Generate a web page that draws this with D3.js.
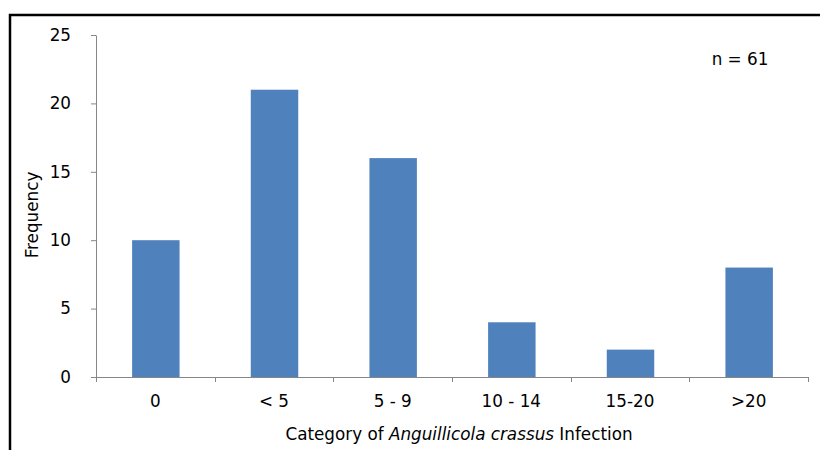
<!DOCTYPE html>
<html>
<head>
<meta charset="utf-8">
<script src="https://cdn.jsdelivr.net/npm/d3@7"></script>
<style>
  html, body { margin: 0; padding: 0; background: #fff; }
  svg { display: block; }
  text { font-family: "DejaVu Sans", Verdana, sans-serif; fill: #000; }
</style>
</head>
<body>
<svg id="chart" width="820" height="450"></svg>
<script>
// Infection categories and eel counts per category
const categories = ["0", "< 5", "5 - 9", "10 - 14", "15-20", ">20"];
const frequencies = [10, 21, 16, 4, 2, 8];
const yTicks = [0, 5, 10, 15, 20, 25];
const sampleLabel = "n = 61";

const svg = d3.select("#chart");
const plotLeft = 96, plotRight = 808, plotTop = 35, plotBottom = 377;
const fontSize = 16.8;

// outer frame (runs off the right and bottom edges)
svg.append("rect")
  .attr("x", 10).attr("y", 15)
  .attr("width", 900).attr("height", 900)
  .attr("fill", "none").attr("stroke", "#000").attr("stroke-width", 2.5);

const x = d3.scaleBand().domain(categories).range([plotLeft, plotRight]).padding(0);
const y = d3.scaleLinear().domain([0, 25]).range([plotBottom, plotTop]);

const axisColor = "#868686";

// bars
const barFrac = 0.4;
svg.append("g").selectAll("rect")
  .data(frequencies)
  .join("rect")
  .attr("x", (d, i) => x(categories[i]) + x.bandwidth() * (1 - barFrac) / 2 + 0.5)
  .attr("width", x.bandwidth() * barFrac)
  .attr("y", d => y(d))
  .attr("height", d => y(0) - y(d))
  .attr("fill", "#4F81BD");

// y axis
const yAxis = svg.append("g")
  .attr("transform", `translate(${plotLeft},0)`)
  .call(d3.axisLeft(y).tickValues(yTicks).tickSize(5).tickSizeOuter(0).tickPadding(20));
yAxis.select(".domain").attr("stroke", axisColor);
yAxis.selectAll(".tick line").attr("stroke", axisColor);
yAxis.selectAll(".tick text")
  .attr("font-size", fontSize).attr("font-family", "DejaVu Sans, Verdana, sans-serif").attr("fill", "#000");

// x axis: tick marks sit on the category boundaries
const boundaries = categories.map(c => x(c)).concat([x.range()[1]]);
const xg = svg.append("g");
xg.append("line")
  .attr("x1", plotLeft).attr("x2", plotRight)
  .attr("y1", y(0) + 0.5).attr("y2", y(0) + 0.5)
  .attr("stroke", axisColor);
xg.selectAll("line.tk")
  .data(boundaries)
  .join("line")
  .attr("class", "tk")
  .attr("x1", d => Math.round(d) + 0.5).attr("x2", d => Math.round(d) + 0.5)
  .attr("y1", y(0)).attr("y2", y(0) + 5)
  .attr("stroke", axisColor);
xg.selectAll("text")
  .data(categories)
  .join("text")
  .attr("x", d => x(d) + x.bandwidth() / 2)
  .attr("y", 407)
  .attr("text-anchor", "middle")
  .attr("font-size", fontSize)
  .text(d => d);

// axis titles
svg.append("text")
  .attr("transform", `translate(38,${(plotTop + plotBottom) / 2 + 9}) rotate(-90)`)
  .attr("text-anchor", "middle")
  .attr("font-size", fontSize)
  .text("Frequency");

const xt = svg.append("text")
  .attr("x", 459).attr("y", 440)
  .attr("text-anchor", "middle")
  .attr("font-size", fontSize);
xt.append("tspan").text("Category of ");
xt.append("tspan").attr("font-style", "italic").text("Anguillicola crassus");
xt.append("tspan").text(" Infection");

// sample size note
svg.append("text")
  .attr("x", 740).attr("y", 65)
  .attr("text-anchor", "middle")
  .attr("font-size", fontSize)
  .text(sampleLabel);
</script>
</body>
</html>
